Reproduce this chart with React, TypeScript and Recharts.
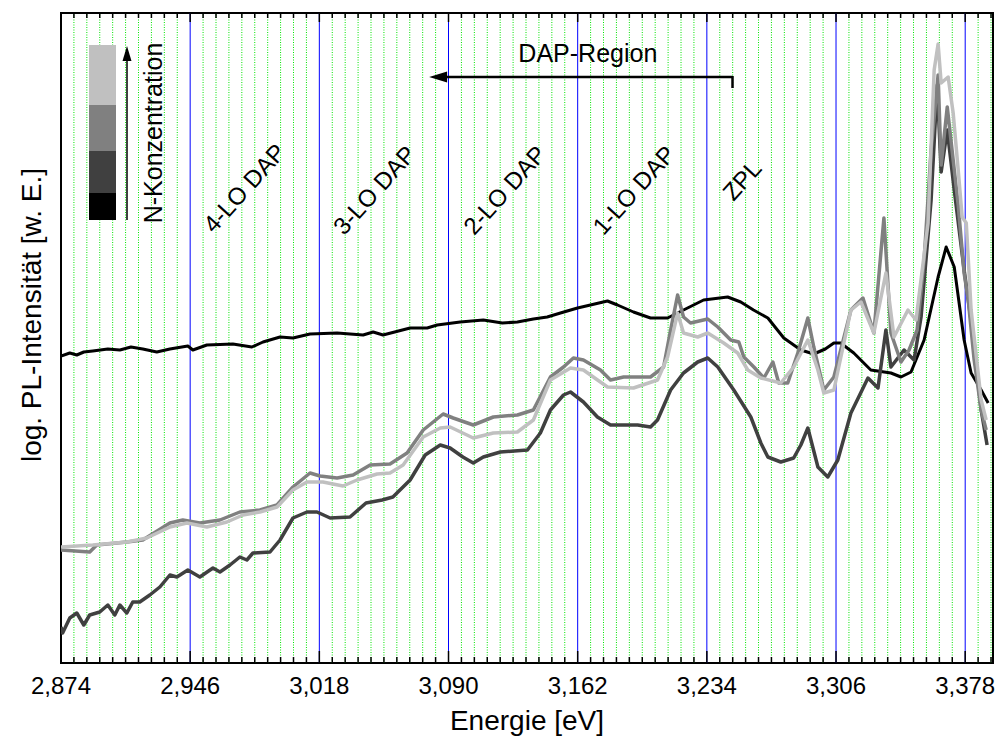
import React from 'react';
import { LineChart, Line, XAxis, YAxis, ReferenceLine, ReferenceArea } from 'recharts';

// Energie [eV], log. PL-Intensität (arbitrary units, 0..650)
const X_MIN = 2.874;
const X_MAX = 3.3935;
const MINOR_STEP = 0.0072;

const majorTicks = [2.874, 2.946, 3.018, 3.09, 3.162, 3.234, 3.306, 3.378];

const blackPts: [number, number][] = [
  [2.874, 307], [2.8789, 310], [2.8828, 308], [2.8867, 311], [2.8917, 312], [2.9001, 314], [2.9068, 313],
  [2.9130, 316], [2.9196, 314], [2.9274, 311], [2.9347, 314], [2.9447, 317], [2.9475, 313], [2.9553, 318],
  [2.9698, 319], [2.9804, 316], [2.9866, 321], [2.9961, 326], [3.0033, 325], [3.0128, 329], [3.0279, 330],
  [3.0424, 328], [3.048, 331], [3.0535, 328], [3.0686, 335], [3.0781, 335], [3.0837, 338], [3.0965, 341],
  [3.1094, 343], [3.1200, 340], [3.1284, 341], [3.1373, 344], [3.1450, 346], [3.1524, 350], [3.1619, 355],
  [3.1691, 358], [3.1786, 362], [3.1842, 358], [3.1931, 351], [3.2026, 345], [3.2121, 345], [3.221, 353],
  [3.2322, 363], [3.2456, 366], [3.2529, 361], [3.2600, 353], [3.268, 345], [3.2769, 325], [3.2864, 313],
  [3.2936, 309], [3.3000, 314], [3.3048, 320], [3.3086, 320], [3.3159, 310], [3.3254, 293], [3.3366, 290],
  [3.3422, 286], [3.3478, 291], [3.3551, 323], [3.3629, 386], [3.3674, 416], [3.3719, 396], [3.3774, 323],
  [3.3813, 290], [3.3869, 273], [3.3908, 260],
];

const dark40Pts: [number, number][] = [
  [2.874, 36], [2.8749, 30], [2.8789, 45], [2.8828, 50], [2.8867, 38], [2.89, 48], [2.8956, 51], [2.9001, 58],
  [2.904, 48], [2.9068, 58], [2.9107, 50], [2.914, 61], [2.9179, 61], [2.9235, 68], [2.9291, 76], [2.9347, 88],
  [2.9386, 86], [2.9447, 93], [2.9514, 86], [2.9587, 95], [2.9626, 91], [2.9682, 98], [2.9737, 106],
  [2.9776, 103], [2.981, 110], [2.9905, 111], [2.9961, 123], [3.0033, 145], [3.0111, 151], [3.0167, 151],
  [3.024, 145], [3.0351, 146], [3.0440, 160], [3.0530, 163], [3.0590, 166], [3.0686, 183], [3.0770, 208],
  [3.0854, 218], [3.0909, 215], [3.0980, 206], [3.1038, 200], [3.1094, 206], [3.1189, 211], [3.134, 213],
  [3.1412, 230], [3.1468, 253], [3.1541, 268], [3.158, 271], [3.1652, 261], [3.173, 246], [3.1803, 238],
  [3.1954, 238], [3.2026, 236], [3.2065, 243], [3.2138, 273], [3.221, 290], [3.2289, 301], [3.2345, 305],
  [3.2401, 296], [3.249, 273], [3.2585, 246], [3.2641, 220], [3.268, 206], [3.2752, 201], [3.2824, 205],
  [3.2864, 218], [3.2903, 235], [3.2959, 196], [3.3014, 186], [3.307, 203], [3.3143, 250], [3.3238, 285],
  [3.3294, 275], [3.3338, 333], [3.3366, 296], [3.3439, 313], [3.3495, 303], [3.3534, 346], [3.359, 463],
  [3.3624, 578], [3.3646, 491], [3.368, 533], [3.3719, 473], [3.3774, 393], [3.383, 320], [3.3869, 253],
  [3.3902, 218],
];

const gray80Pts: [number, number][] = [
  [2.874, 113], [2.89, 111], [2.8939, 118], [2.9107, 121], [2.9196, 123], [2.9347, 140], [2.9419, 143],
  [2.9514, 140], [2.9626, 143], [2.9737, 151], [2.9849, 153], [2.9944, 158], [3.0033, 176], [3.0128, 190],
  [3.0184, 187], [3.0279, 185], [3.0368, 188], [3.0463, 198], [3.0574, 199], [3.0669, 210], [3.0759, 233],
  [3.087, 249], [3.0926, 245], [3.1038, 238], [3.115, 246], [3.1284, 248], [3.1373, 253], [3.1468, 286],
  [3.1541, 296], [3.1596, 305], [3.1652, 303], [3.1747, 293], [3.1803, 283], [3.1876, 286], [3.2026, 286],
  [3.2099, 296], [3.2138, 333], [3.2177, 368], [3.221, 346], [3.2249, 340], [3.2345, 344], [3.2401, 336],
  [3.2473, 323], [3.2518, 321], [3.2546, 306], [3.2602, 296], [3.2658, 285], [3.2708, 301], [3.2741, 280],
  [3.2791, 280], [3.2847, 310], [3.2903, 345], [3.2936, 316], [3.2992, 273], [3.3048, 286], [3.3143, 353],
  [3.321, 365], [3.3271, 330], [3.3327, 445], [3.3366, 330], [3.3422, 301], [3.3467, 313], [3.3512, 333],
  [3.3551, 403], [3.359, 513], [3.3629, 588], [3.3646, 498], [3.368, 556], [3.3741, 458], [3.3774, 390],
  [3.3797, 363], [3.383, 303], [3.3869, 253], [3.3897, 233],
];

const lightC0Pts: [number, number][] = [
  [2.874, 116], [2.8917, 118], [2.9107, 121], [2.9218, 125], [2.9347, 136], [2.9442, 140], [2.9553, 136],
  [2.9665, 141], [2.9754, 148], [2.9849, 151], [2.9944, 156], [3.0033, 173], [3.0111, 181], [3.02, 181],
  [3.0312, 177], [3.039, 183], [3.0502, 189], [3.0574, 190], [3.0647, 198], [3.0759, 226], [3.0854, 235],
  [3.0909, 236], [3.1038, 225], [3.115, 230], [3.1284, 231], [3.1373, 243], [3.1468, 283], [3.158, 295],
  [3.1652, 293], [3.1786, 276], [3.1931, 275], [3.2065, 283], [3.2121, 306], [3.2177, 350], [3.221, 330],
  [3.2289, 326], [3.2345, 330], [3.2434, 320], [3.2512, 310], [3.2568, 293], [3.2641, 285], [3.2752, 280],
  [3.2824, 296], [3.2903, 323], [3.2959, 293], [3.2992, 270], [3.3048, 273], [3.3143, 353], [3.3199, 361],
  [3.3271, 330], [3.3338, 390], [3.3383, 326], [3.3461, 353], [3.3506, 343], [3.3573, 440], [3.3607, 593],
  [3.3629, 619], [3.3646, 580], [3.3685, 586], [3.3713, 550], [3.3741, 493], [3.3763, 446], [3.3786, 440],
  [3.3813, 353], [3.3869, 263], [3.3897, 243],
];

// lowest to highest N-concentration
const series = [
  { name: 'N1', color: '#000000', width: 3, pts: blackPts },
  { name: 'N2', color: '#404040', width: 3.5, pts: dark40Pts },
  { name: 'N3', color: '#808080', width: 3.5, pts: gray80Pts },
  { name: 'N4', color: '#c0c0c0', width: 3.5, pts: lightC0Pts },
];

const loLabels = [
  { e: 2.946, text: '4-LO DAP', dx: 54, cy: 188 },
  { e: 3.018, text: '3-LO DAP', dx: 55, cy: 190 },
  { e: 3.09, text: '2-LO DAP', dx: 56, cy: 190 },
  { e: 3.162, text: '1-LO DAP', dx: 56, cy: 190 },
  { e: 3.234, text: 'ZPL', dx: 35, cy: 180 },
];

const dapArrow = { from: 3.2483, to: 3.0792, level: 586, text: 'DAP-Region' };

const FONT = '"Liberation Sans", Arial, sans-serif';

const minorTicks: number[] = [];
for (let e = X_MIN; e <= X_MAX + 1e-9; e += MINOR_STEP) minorTicks.push(+e.toFixed(4));
const isMajor = (e: number) => majorTicks.some((m) => Math.abs(m - e) < 1e-6);

const fmt = (v: number) => v.toFixed(3).replace('.', ',');

const ArrowShape = (p: any) => {
  const { x1, y1, x2 } = p;
  return (
    <g>
      <line x1={x1} y1={y1} x2={x2 + 14} y2={y1} stroke="#000" strokeWidth={2.5} />
      <line x1={x1} y1={y1 - 1} x2={x1} y2={y1 + 11} stroke="#000" strokeWidth={2.5} />
      <polygon points={`${x2},${y1} ${x2 + 18},${y1 - 5.5} ${x2 + 18},${y1 + 5.5}`} fill="#000" />
      <text x={(x1 + x2) / 2 + 7} y={y1 - 15} textAnchor="middle" fontSize={25} fontFamily={FONT} fill="#000">
        {dapArrow.text}
      </text>
    </g>
  );
};

const App: React.FC = () => {
  return (
    <div style={{ position: 'absolute', left: 0, top: 0, width: 1002, height: 740, background: '#fff' }}>
      <LineChart
        width={1002}
        height={740}
        margin={{ top: 13, right: 9, bottom: 0, left: 0 }}
        style={{ fontFamily: FONT }}
      >
        <XAxis
          dataKey="e"
          type="number"
          domain={[X_MIN, X_MAX]}
          allowDataOverflow
          ticks={majorTicks}
          tickFormatter={fmt}
          axisLine={false}
          tickLine={false}
          tickSize={6}
          tickMargin={8}
          height={77}
          tick={{ fontSize: 24, fill: '#000', fontFamily: FONT }}
          label={{ value: 'Energie [eV]', position: 'insideBottom', offset: 10, fontSize: 28, fill: '#000', fontFamily: FONT }}
        />
        <YAxis
          type="number"
          domain={[0, 650]}
          allowDataOverflow
          width={61}
          tick={false}
          axisLine={false}
          tickLine={false}
          label={(props: any) => {
            const vb = props.viewBox || { x: 0, y: 13, width: 61, height: 650 };
            const cx = vb.x + 41;
            const cy = vb.y + 302;
            return (
              <text
                transform={`translate(${cx},${cy}) rotate(-90)`}
                textAnchor="middle"
                fontSize={28}
                fontFamily={FONT}
                fill="#000"
              >
                log. PL-Intensität [w. E.]
              </text>
            );
          }}
        />

        {minorTicks.filter((e) => !isMajor(e)).map((e) => (
          <ReferenceLine key={`g${e}`} x={e} stroke="#00e600" strokeWidth={1} strokeDasharray="1 1.5" />
        ))}
        {majorTicks.slice(1).map((e) => {
          const lab = loLabels.find((l) => Math.abs(l.e - e) < 1e-6);
          return (
            <ReferenceLine
              key={`b${e}`}
              x={e}
              stroke="#0000ff"
              strokeWidth={1}
              label={
                lab
                  ? (props: any) => {
                      const vb = props.viewBox;
                      return (
                        <text
                          transform={`translate(${vb.x + lab.dx},${vb.y + lab.cy - 13}) rotate(-48)`}
                          textAnchor="middle"
                          dominantBaseline="central"
                          fontSize={24}
                          fontFamily={FONT}
                          fill="#000"
                        >
                          {lab.text}
                        </text>
                      );
                    }
                  : undefined
              }
            />
          );
        })}

        {series.map((s) => (
          <Line
            key={s.name}
            name={s.name}
            data={s.pts.map(([e, v]) => ({ e, v }))}
            dataKey="v"
            type="linear"
            stroke={s.color}
            strokeWidth={s.width}
            strokeLinejoin="round"
            dot={false}
            activeDot={false}
            isAnimationActive={false}
          />
        ))}

        <ReferenceLine
          segment={[
            { x: dapArrow.from, y: dapArrow.level },
            { x: dapArrow.to, y: dapArrow.level },
          ]}
          shape={ArrowShape}
        />

        {minorTicks.map((e) => (
          <ReferenceLine
            key={`tb${e}`}
            segment={[
              { x: e, y: 0 },
              { x: e, y: isMajor(e) ? 12 : 6 },
            ]}
            stroke="#000"
            strokeWidth={1.5}
          />
        ))}
        {minorTicks.map((e) => (
          <ReferenceLine
            key={`tt${e}`}
            segment={[
              { x: e, y: 650 },
              { x: e, y: isMajor(e) ? 641 : 645 },
            ]}
            stroke="#000"
            strokeWidth={1.5}
          />
        ))}
        <ReferenceArea x1={X_MIN} x2={X_MAX} y1={0} y2={650} fill="none" fillOpacity={0} stroke="#000" strokeWidth={2} />
      </LineChart>

      {/* grey-scale legend for N-Konzentration */}
      <svg width={1002} height={740} style={{ position: 'absolute', left: 0, top: 0, pointerEvents: 'none' }}>
        <rect x={89} y={45} width={27} height={60} fill={series[3].color} />
        <rect x={89} y={105} width={27} height={46} fill={series[2].color} />
        <rect x={89} y={151} width={27} height={42} fill={series[1].color} />
        <rect x={89} y={193} width={27} height={27} fill={series[0].color} />
        <line x1={127} y1={220} x2={127} y2={58} stroke="#000" strokeWidth={1.5} />
        <polygon points="127,46 122.5,61 131.5,61" fill="#000" />
        <text
          transform="translate(162,133) rotate(-90)"
          textAnchor="middle"
          fontSize={25}
          fontFamily={FONT}
          fill="#000"
        >
          N-Konzentration
        </text>
      </svg>
    </div>
  );
};

export default App;
